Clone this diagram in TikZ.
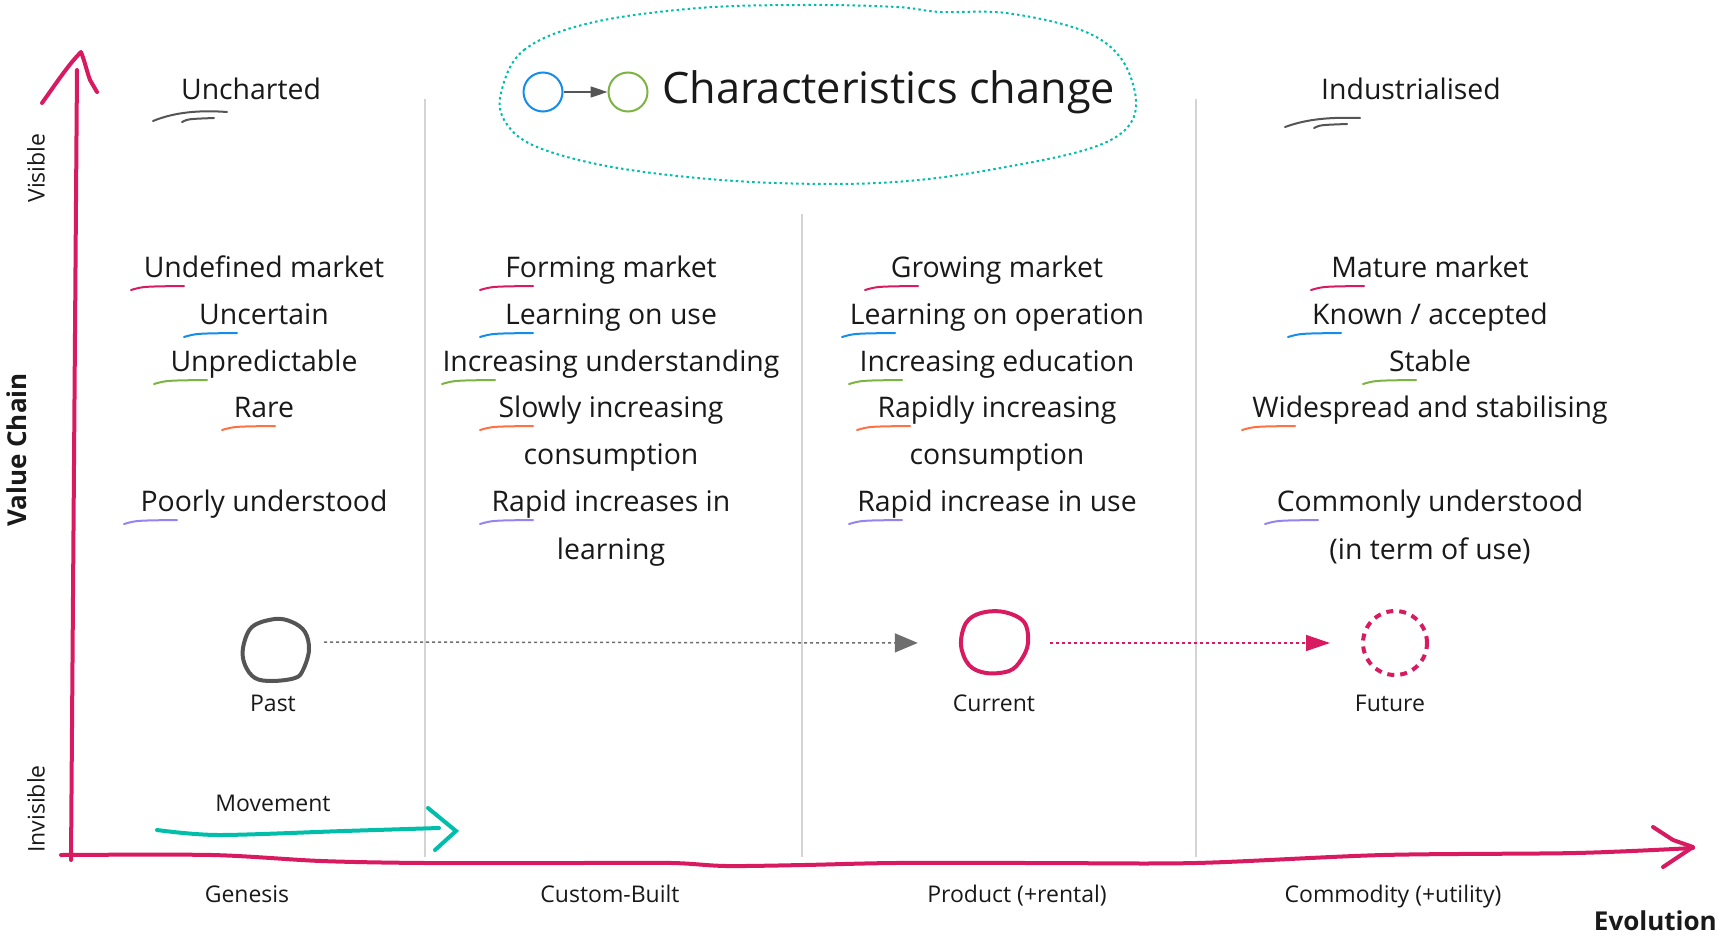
\documentclass[tikz,border=0pt]{standalone}
\usepackage{fontspec}
\setmainfont{Open Sans}
\usetikzlibrary{arrows.meta}
\definecolor{axpink}{RGB}{216,27,96}
\definecolor{ulpink}{RGB}{216,27,96}
\definecolor{ulblue}{RGB}{20,140,235}
\definecolor{ulgreen}{RGB}{124,179,66}
\definecolor{ulorange}{RGB}{255,112,67}
\definecolor{ulpurple}{RGB}{150,130,240}
\definecolor{tealc}{RGB}{0,190,170}
\definecolor{gridc}{RGB}{212,212,212}
\definecolor{dgrey}{RGB}{85,85,85}
\definecolor{mgrey}{RGB}{110,110,110}
\definecolor{txt}{RGB}{25,25,25}
\newcommand\hul[3]{\draw[#3, line width=2pt, line cap=round] (#1,#2+13) .. controls (#1+12,#2+9.5) .. (#1+53,#2+9);}
\begin{document}
\begin{tikzpicture}[x=1pt,y=-1pt,
  body/.style={font=\fontsize{28.4}{34}\selectfont, text=txt, inner sep=0pt, anchor=base},
  small/.style={font=\fontsize{23}{28}\selectfont, text=txt, inner sep=0pt},
  boldlab/.style={font=\bfseries\fontsize{26}{30}\selectfont, text=txt, inner sep=0pt},
  gridline/.style={draw=gridc, line width=1.3pt},
  axisline/.style={draw=axpink, line width=4pt, line cap=round, line join=round},
  sketch/.style={line width=4pt, line cap=round},
  greyul/.style={draw=dgrey, line width=2pt, line cap=round}]
\useasboundingbox (0,0) rectangle (1720,936);

% grid lines
\draw[gridline] (425,99) -- (425,857);
\draw[gridline] (802,214) -- (802,857);
\draw[gridline] (1196,99) -- (1196,857);

% axes
\draw[axisline] (71,860) -- (77,70);
\draw[axisline] (42,103) .. controls (55,85) and (68,65) .. (81,52) .. controls (85,62) and (87,72) .. (90,80) -- (97,92);
\draw[axisline] plot[smooth, tension=0.5] coordinates {(61,855) (212,855) (321,861) (425,863) (574,863) (672,863) (726,866) (804,865) (895,863) (1041,863) (1196,863) (1383,855) (1576,853) (1693,848)};
\draw[axisline] (1653,827) -- (1673,840) -- (1693,847) -- (1678,857) -- (1663,867);

% axis labels
\node[small, rotate=90] (vis) at (36,168) {Visible};
\node[small, rotate=90] (invis) at (36,809) {Invisible};
\node[boldlab, rotate=90] (vchain) at (17,450) {Value Chain};
\node[boldlab, anchor=base east] (evo) at (1717,930) {Evolution};
\node[small, anchor=base] (gen) at (247,902) {Genesis};
\node[small, anchor=base] (cust) at (610,902) {Custom-Built};
\node[small, anchor=base] (prod) at (1017,902) {Product (+rental)};
\node[small, anchor=base] (comm) at (1393,902) {Commodity (+utility)};

% top labels
\node[body, anchor=base] (unch) at (251,100) {Uncharted};
\draw[greyul] (153,121) .. controls (175,112) and (200,110) .. (227,112);
\draw[greyul] (182,122) .. controls (188,119) .. (214,118);
\node[body, anchor=base] (indus) at (1411,100) {Industrialised};
\draw[greyul] (1285,127) .. controls (1307,119) and (1330,117) .. (1360,118);
\draw[greyul] (1314,128) .. controls (1320,125) .. (1347,124);

% characteristics change blob
\draw[tealc, line width=2pt, dash pattern=on 2.5pt off 3pt] plot[smooth cycle, tension=0.6] coordinates {(501,93) (524,50) (590,23) (699,8) (809,5) (897,7) (940,12) (1006,13) (1081,30) (1120,57) (1136,100) (1125,130) (1085,150) (1006,167) (919,180) (831,184) (721,180) (612,167) (537,147) (506,123)};
\node[circle, draw=ulblue, line width=2pt, minimum size=39pt, inner sep=0pt] (bc) at (543,92) {};
\node[circle, draw=ulgreen, line width=2pt, minimum size=39pt, inner sep=0pt] (gc) at (628,92) {};
\draw[dgrey, line width=1.5pt, -{Triangle[length=17pt,width=11pt]}] (bc.east) -- (gc.west);
\node[font=\fontsize{43.3}{50}\selectfont, text=txt, inner sep=0pt, anchor=base west] (cc) at (662,104) {Characteristics change};

% column 1
\node[body] (a1) at (264,277) {Undefined market}; \hul{131}{277}{ulpink}
\node[body] (a2) at (264,324) {Uncertain}; \hul{184}{324}{ulblue}
\node[body] (a3) at (264,371) {Unpredictable}; \hul{154}{371}{ulgreen}
\node[body] (a4) at (264,417) {Rare}; \hul{222}{417}{ulorange}
\node[body] (a6) at (264,511) {Poorly understood}; \hul{124}{511}{ulpurple}
% column 2
\node[body] (b1) at (611,277) {Forming market}; \hul{480}{277}{ulpink}
\node[body] (b2) at (611,324) {Learning on use}; \hul{480}{324}{ulblue}
\node[body] (b3) at (611,371) {Increasing understanding}; \hul{442}{371}{ulgreen}
\node[body] (b4) at (611,417) {Slowly increasing}; \hul{480}{417}{ulorange}
\node[body] (b5) at (611,464) {consumption};
\node[body] (b6) at (611,511) {Rapid increases in}; \hul{480}{511}{ulpurple}
\node[body] (b7) at (611,559) {learning};
% column 3
\node[body] (c1) at (997,277) {Growing market}; \hul{865}{277}{ulpink}
\node[body] (c2) at (997,324) {Learning on operation}; \hul{842}{324}{ulblue}
\node[body] (c3) at (997,371) {Increasing education}; \hul{849}{371}{ulgreen}
\node[body] (c4) at (997,417) {Rapidly increasing}; \hul{857}{417}{ulorange}
\node[body] (c5) at (997,464) {consumption};
\node[body] (c6) at (997,511) {Rapid increase in use}; \hul{849}{511}{ulpurple}
% column 4
\node[body] (d1) at (1430,277) {Mature market}; \hul{1311}{277}{ulpink}
\node[body] (d2) at (1430,324) {Known / accepted}; \hul{1288}{324}{ulblue}
\node[body] (d3) at (1430,371) {Stable}; \hul{1363}{371}{ulgreen}
\node[body] (d4) at (1430,417) {Widespread and stabilising}; \hul{1242}{417}{ulorange}
\node[body] (d6) at (1430,511) {Commonly understood}; \hul{1265}{511}{ulpurple}
\node[body] (d7) at (1430,559) {(in term of use)};

% past / current / future
\node[circle, minimum size=66pt, inner sep=0pt] (past) at (275,650) {};
\draw[dgrey, sketch] plot[smooth cycle, tension=0.6] coordinates {(243,648) (252,627) (275,619) (292,622) (305,632) (309,650) (303,670) (295,678) (272,681) (255,678) (245,665)};
\node[circle, minimum size=66pt, inner sep=0pt] (cur) at (994,643) {};
\draw[axpink, sketch] plot[smooth cycle, tension=0.6] coordinates {(961,645) (966,623) (981,613) (1004,612) (1024,622) (1028,643) (1021,660) (1009,671) (986,673) (969,665)};
\node[circle, draw=axpink, line width=4pt, dash pattern=on 7pt off 6pt, minimum size=64pt, inner sep=0pt] (fut) at (1395,643) {};
\node[small, anchor=base] (pastl) at (273,711) {Past};
\node[small, anchor=base] (curl) at (994,711) {Current};
\node[small, anchor=base] (futl) at (1390,711) {Future};
\draw[mgrey, line width=1.5pt, dash pattern=on 3pt off 3pt, -{Triangle[length=23pt,width=19pt]}, shorten <=16pt, shorten >=43pt] ([yshift=8pt]past.east) -- (cur.west);
\draw[axpink, line width=1.5pt, dash pattern=on 3pt off 3pt, -{Triangle[length=24pt,width=16pt]}, shorten <=23pt, shorten >=31pt] (cur.east) -- (fut.west);

% movement
\node[small, anchor=base] (mov) at (273,811) {Movement};
\coordinate (m0) at (157,830);
\coordinate (m1) at (439,828);
\draw[tealc, sketch] plot[smooth, tension=0.5] coordinates {(m0) (218,835) (344,831) (m1)};
\draw[tealc, sketch] (428,808) -- (456,831) -- (435,850);
\end{tikzpicture}
\end{document}
